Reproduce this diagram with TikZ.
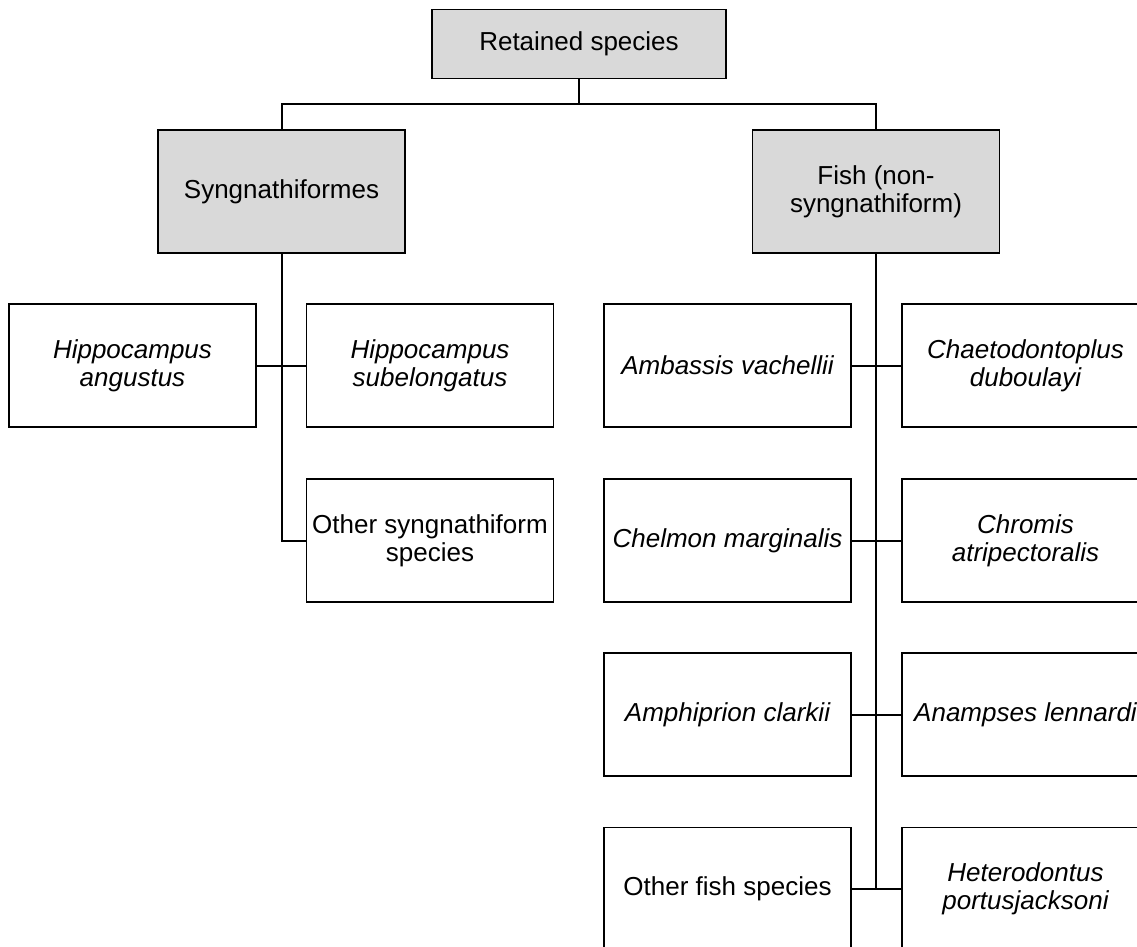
\documentclass[tikz,border=0pt]{standalone}
\usepackage{fontspec}
\setmainfont{Liberation Sans}
\begin{document}
\begin{tikzpicture}[x=1pt,y=-1pt,
  box/.style={draw=black, line width=1.6pt, minimum width=247pt, minimum height=123pt, inner sep=0pt, align=center, font=\fontsize{26}{28}\selectfont},
  grp/.style={box, fill=boxgray},
  sp/.style={box, font=\fontsize{26}{28}\selectfont\itshape},
  conn/.style={draw=black, line width=2pt}]
\definecolor{boxgray}{HTML}{D9D9D9}
\useasboundingbox (0,0) rectangle (1137,947);
\clip (0,0) rectangle (1137,947);
\fill[white] (0,0) rectangle (1137,947);
% group nodes
\node[grp, minimum width=294pt, minimum height=69pt] (ret) at (579,44) {Retained species};
\node[grp] (syn) at (281.5,191.5) {Syngnathiformes};
\node[grp] (fish) at (876,191.5) {Fish (non-\\syngnathiform)};
% syngnathiform children
\node[sp] (ha) at (132.5,365.5) {Hippocampus\\angustus};
\node[sp] (hs) at (430,365.5) {Hippocampus\\subelongatus};
\node[box] (os) at (430,540.5) {Other syngnathiform\\species};
% fish children
\node[sp] (amb) at (727.5,365.5) {Ambassis vachellii};
\node[sp] (cha) at (1025.5,365.5) {Chaetodontoplus\\duboulayi};
\node[sp] (che) at (727.5,540.5) {Chelmon marginalis};
\node[sp] (chr) at (1025.5,540.5) {Chromis\\atripectoralis};
\node[sp] (amp) at (727.5,714.5) {Amphiprion clarkii};
\node[sp] (ana) at (1025.5,714.5) {Anampses lennardi};
\node[box] (ofs) at (727.5,889) {Other fish species};
\node[sp] (het) at (1025.5,889) {Heterodontus\\portusjacksoni};
% connectors
\coordinate (jt) at (579,104);
\draw[conn] (ret.south) -- (jt);
\draw[conn] (syn.north) |- (jt) -| (fish.north);
\coordinate (js) at (syn.south |- os.west);
\draw[conn] (syn.south) -- (js) -- (os.west);
\draw[conn] (ha.east) -- (hs.west);
\coordinate (jf) at (fish.south |- ofs.east);
\draw[conn] (fish.south) -- (jf);
\draw[conn] (amb.east) -- (cha.west);
\draw[conn] (che.east) -- (chr.west);
\draw[conn] (amp.east) -- (ana.west);
\draw[conn] (ofs.east) -- (het.west);
\end{tikzpicture}
\end{document}
